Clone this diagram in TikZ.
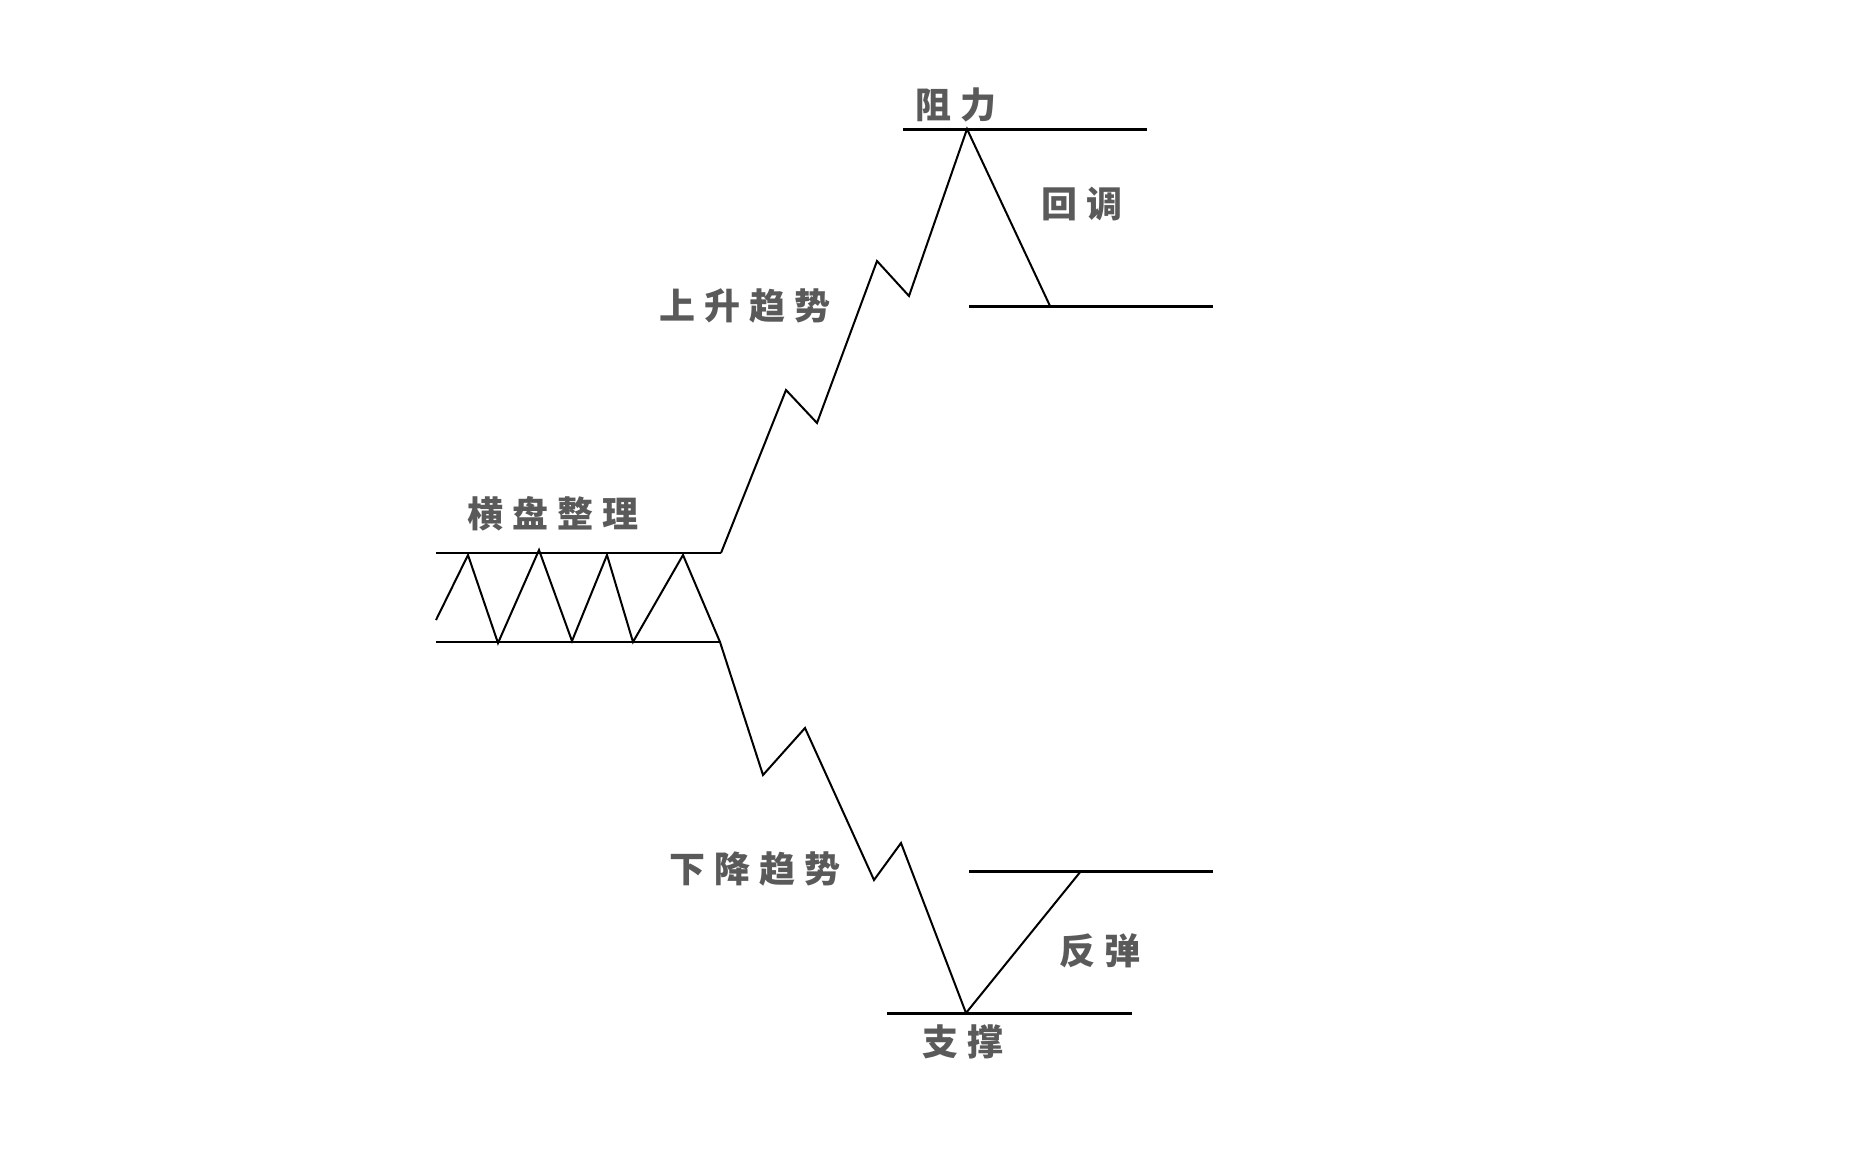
\documentclass[tikz,border=0pt]{standalone}
\usepackage{fontspec}
\usepackage{xcolor}
\newfontfamily\cjk[LetterSpace=25]{Noto Sans CJK SC}
\definecolor{labelgray}{HTML}{5A5A5A}

\begin{document}
\begin{tikzpicture}[x=0.5pt,y=-0.5pt,
        trend/.style={line width=1pt,line join=miter},
        level/.style={line width=1.5pt},
        cnlabel/.style={font=\cjk\bfseries\fontsize{18pt}{18pt}\selectfont,text=labelgray,inner sep=0pt}]
        \useasboundingbox (0,0) rectangle (1862,1152);
        % consolidation zigzag
        \coordinate(z0) at (436,620);
        \coordinate(z1) at (468,555);
        \coordinate(z2) at (498,643);
        \coordinate(z3) at (539,550);
        \coordinate(z4) at (572,641);
        \coordinate(z5) at (607,555);
        \coordinate(z6) at (633,642);
        \coordinate(z7) at (683,555);
        \coordinate(z8) at (720,642);
        % down trend
        \coordinate(d1) at (763,775);
        \coordinate(d2) at (805,728);
        \coordinate(d3) at (874,880);
        \coordinate(d4) at (901,843);
        \coordinate(d5) at (966,1013);
        \coordinate(d6) at (1081,871);
        % up trend
        \coordinate(u0) at (721,553);
        \coordinate(u1) at (786,390);
        \coordinate(u2) at (817,423);
        \coordinate(u3) at (877,261);
        \coordinate(u4) at (909,296);
        \coordinate(u5) at (967,129);
        \coordinate(u6) at (1050,306);
        % levels
        \coordinate(bt0) at (436,553);
        \coordinate(bb0) at (436,642);
        \coordinate(r0) at (903,129);
        \coordinate(r1) at (1147,129);
        \coordinate(p0) at (969,306);
        \coordinate(p1) at (1213,306);
        \coordinate(b0) at (969,871);
        \coordinate(b1) at (1213,871);
        \coordinate(s0) at (887,1013);
        \coordinate(s1) at (1132,1013);
        \node[cnlabel](range) at (553,514) {横盘整理};
        \node[cnlabel](uptrend) at (745,306) {上升趋势};
        \node[cnlabel](resist) at (956,105) {阻力};
        \node[cnlabel](pullback) at (1082,204) {回调};
        \node[cnlabel](downtrend) at (755,869) {下降趋势};
        \node[cnlabel](rebound) at (1100,951) {反弹};
        \node[cnlabel](support) at (963,1042) {支撑};
        \draw[trend](bt0)--(u0);
        \draw[trend](bb0)--(z8);
        \draw[trend](z0)--(z1)--(z2)--(z3)--(z4)--(z5)--(z6)--(z7)--(z8)--(d1)--(d2)--(d3)--(d4)--(d5)--(d6);
        \draw[trend](u0)--(u1)--(u2)--(u3)--(u4)--(u5)--(u6);
        \draw[level](r0)--(r1);
        \draw[level](p0)--(p1);
        \draw[level](b0)--(b1);
        \draw[level](s0)--(s1);
        \end{tikzpicture}
\end{document}
